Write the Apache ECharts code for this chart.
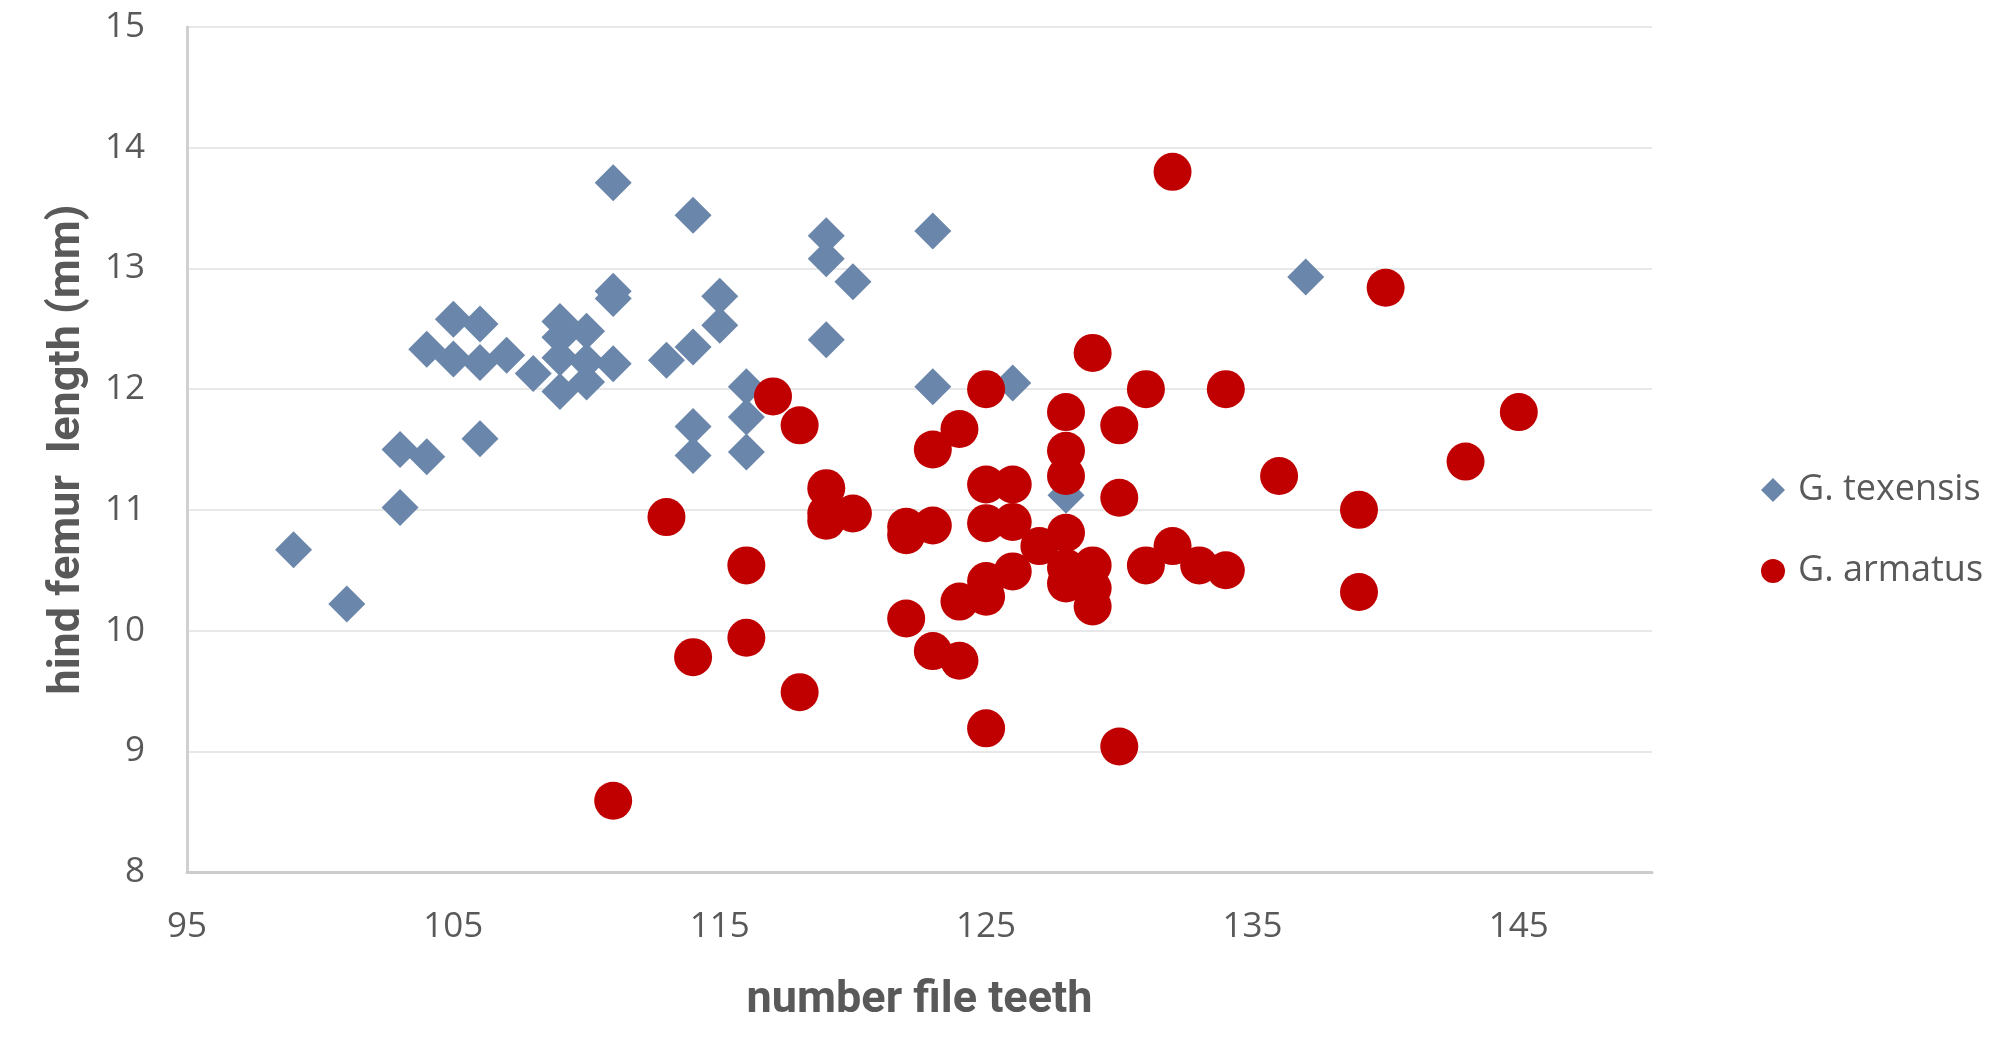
<!DOCTYPE html>
<html>
<head>
<meta charset="utf-8">
<script src="https://cdn.jsdelivr.net/npm/echarts@6/dist/echarts.min.js"></script>
<style>
  html, body { margin: 0; padding: 0; background: #ffffff; }
  #chart { width: 2007px; height: 1056px; }
</style>
</head>
<body>
<div id="chart"></div>
<script>
// ---- data ----
const seriesNames = ['G. texensis', 'G. armatus'];
const xAxisTitle = 'number file teeth';
const yAxisTitle = 'hind femur  length (mm)';

const texensisTeeth = [99,101,103,103,104,104,105,105,106,106,106,107,108,109,109,109,109,110,110,110,111,111,111,111,113,114,114,114,114,115,115,116,116,116,119,119,119,120,123,123,126,128,137];
const texensisFemur = [10.67,10.22,11.50,11.02,12.33,11.44,12.58,12.25,12.54,12.22,11.59,12.28,12.13,12.56,12.43,12.26,11.98,12.48,12.23,12.06,13.71,12.81,12.75,12.21,12.24,13.44,12.35,11.69,11.45,12.77,12.53,12.02,11.77,11.48,13.27,13.08,12.41,12.89,13.31,12.02,12.05,11.12,12.93];

const armatusTeeth = [111,113,114,116,116,117,118,118,119,119,119,120,122,122,122,123,123,123,124,124,124,125,125,125,125,125,125,126,126,126,127,128,128,128,128,128,128,129,129,129,129,130,130,130,131,131,132,132,133,134,134,136,139,139,140,143,145];
const armatusFemur = [8.59,10.94,9.78,10.54,9.94,11.94,11.70,9.49,11.18,10.97,10.91,10.97,10.86,10.79,10.10,11.50,10.87,9.83,11.67,10.24,9.75,12.00,11.21,10.89,10.41,10.28,9.19,11.21,10.90,10.49,10.70,11.81,11.49,11.28,10.81,10.52,10.39,12.30,10.54,10.35,10.20,11.70,11.10,9.04,12.00,10.54,13.80,10.70,10.54,12.00,10.50,11.28,11.00,10.32,12.84,11.40,11.81];

const xMin = 95, xMax = 150, xStep = 10;
const yMin = 8, yMax = 15, yStep = 1;

function pairs(xs, ys) { return xs.map((x, i) => [x, ys[i]]); }

const tickColor = '#595959';
const textFont = "'Open Sans', 'Noto Sans', sans-serif";
const titleFont = "Roboto, 'Open Sans', sans-serif";

const chart = echarts.init(document.getElementById('chart'), null, { renderer: 'canvas' });
chart.setOption({
  animation: false,
  backgroundColor: '#ffffff',
  grid: { left: 187, right: 355, top: 27, bottom: 184, containLabel: false },
  legend: {
    orient: 'vertical',
    left: 1756,
    top: 465,
    itemWidth: 24,
    itemHeight: 24,
    itemGap: 41,
    data: [
      { name: seriesNames[0], icon: 'diamond' },
      { name: seriesNames[1], icon: 'circle' }
    ],
    textStyle: { fontFamily: textFont, fontSize: 36, color: tickColor, lineHeight: 40, padding: [0, 0, 0, 8] }
  },
  xAxis: {
    type: 'value',
    min: xMin, max: xMax, interval: xStep,
    name: xAxisTitle,
    nameLocation: 'middle',
    nameGap: 106,
    nameTextStyle: { fontFamily: titleFont, fontWeight: 'bold', fontSize: 45, color: tickColor },
    axisLine: { show: true, lineStyle: { color: '#cccccc', width: 3 } },
    axisTick: { show: false },
    splitLine: { show: false },
    axisLabel: { showMaxLabel: false, margin: 38, fontFamily: textFont, fontSize: 35, color: tickColor }
  },
  yAxis: {
    type: 'value',
    min: yMin, max: yMax, interval: yStep,
    name: yAxisTitle,
    nameLocation: 'middle',
    nameGap: 97,
    nameRotate: 90,
    nameTextStyle: { fontFamily: titleFont, fontWeight: 'bold', fontSize: 45, color: tickColor },
    axisLine: { show: true, lineStyle: { color: '#d0d0d0', width: 3 } },
    axisTick: { show: false },
    splitLine: { show: true, lineStyle: { color: '#e8e8e8', width: 2 } },
    axisLabel: { margin: 42, fontFamily: textFont, fontSize: 35, color: tickColor }
  },
  series: [
    {
      name: seriesNames[0],
      type: 'scatter',
      symbol: 'diamond',
      symbolSize: 37,
      itemStyle: { color: '#6a86aa', opacity: 1 },
      data: pairs(texensisTeeth, texensisFemur),
      z: 2
    },
    {
      name: seriesNames[1],
      type: 'scatter',
      symbol: 'circle',
      symbolSize: 38,
      itemStyle: { color: '#c00000', opacity: 1 },
      data: pairs(armatusTeeth, armatusFemur),
      z: 3
    }
  ]
});
</script>
</body>
</html>
